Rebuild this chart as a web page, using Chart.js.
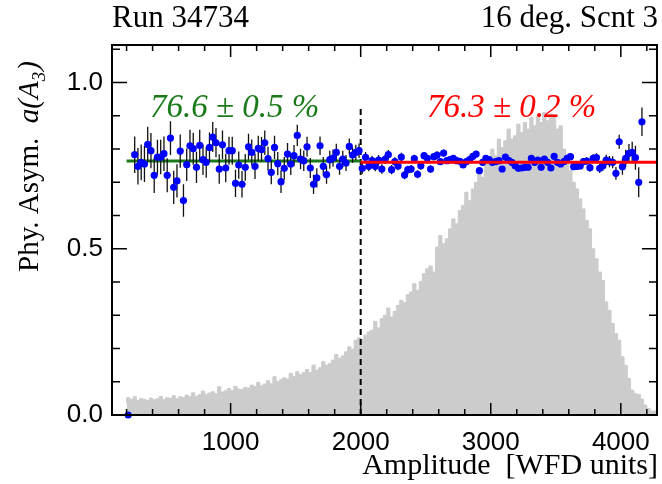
<!DOCTYPE html>
<html>
<head>
<meta charset="utf-8">
<script src="https://cdn.jsdelivr.net/npm/chart.js@4.4.1/dist/chart.umd.min.js"></script>
<style>
  html, body { margin: 0; padding: 0; background: #fff; }
  #wrap { width: 662px; height: 484px; }
</style>
</head>
<body>
<div id="wrap"><canvas id="c" width="662" height="484"></canvas></div>
<script>
// Binning of the amplitude spectrum (WFD units)
const HIST_MIN = 200;
const BIN_WIDTH = 25;

// Amplitude spectrum, scaled to the asymmetry axis (one value per bin)
const histHeights = [
  0.035, 0.052, 0.047, 0.055, 0.044, 0.050, 0.047, 0.043,
  0.051, 0.046, 0.049, 0.056, 0.047, 0.052, 0.050, 0.058,
  0.049, 0.055, 0.053, 0.060, 0.055, 0.067, 0.056, 0.061,
  0.072, 0.062, 0.066, 0.070, 0.064, 0.085, 0.069, 0.073,
  0.080, 0.074, 0.086, 0.078, 0.077, 0.083, 0.081, 0.090,
  0.086, 0.098, 0.088, 0.093, 0.103, 0.094, 0.115, 0.100,
  0.106, 0.112, 0.108, 0.125, 0.116, 0.130, 0.121, 0.128,
  0.137, 0.128, 0.150, 0.135, 0.142, 0.160, 0.150, 0.155,
  0.165, 0.182, 0.170, 0.178, 0.190, 0.205, 0.198, 0.225,
  0.232, 0.228, 0.240, 0.250, 0.255, 0.282, 0.262, 0.290,
  0.300, 0.322, 0.295, 0.312, 0.330, 0.345, 0.338, 0.362,
  0.370, 0.395, 0.375, 0.402, 0.425, 0.440, 0.448, 0.430,
  0.505, 0.540, 0.515, 0.530, 0.560, 0.590, 0.575, 0.615,
  0.630, 0.670, 0.645, 0.680, 0.700, 0.735, 0.715, 0.760,
  0.770, 0.800, 0.780, 0.830, 0.805, 0.825, 0.860, 0.830,
  0.840, 0.875, 0.850, 0.880, 0.860, 0.895, 0.870, 0.900,
  0.880, 0.910, 0.885, 0.905, 0.895, 0.860, 0.870, 0.800,
  0.765, 0.735, 0.700, 0.680, 0.650, 0.620, 0.585, 0.560,
  0.500, 0.470, 0.430, 0.405, 0.340, 0.315, 0.275, 0.245,
  0.225, 0.175, 0.150, 0.110, 0.075, 0.064, 0.062, 0.048,
  0.030, 0.020, 0.012
];

// Physics asymmetry per bin (null = empty bin)
const asymValues = [
  0.000, null,
  0.783, 0.748, 0.760, 0.755, 0.814, 0.795, 0.721, 0.776, 0.776, 0.786,
  0.721, 0.833, 0.685, 0.704, 0.794, 0.645, 0.753, 0.810, 0.801, 0.745,
  0.811, 0.768, 0.760, 0.805, 0.836, 0.819, 0.740, 0.813, 0.743, 0.795,
  0.795, 0.697, 0.752, 0.694, 0.745, 0.807, 0.790, 0.748, 0.802, 0.799,
  0.819, 0.771, 0.730, 0.805, 0.756, 0.702, 0.742, 0.785, 0.755, 0.780,
  0.841, 0.770, 0.765, 0.807, 0.743, 0.694, 0.713, 0.810, 0.748, 0.723,
  0.768, 0.773, 0.790, 0.748, 0.770, 0.758, 0.808, 0.782, 0.790, 0.795,
  0.742, 0.775, 0.748, 0.765, 0.748, 0.767, 0.740, 0.769, 0.783, 0.738,
  0.762, 0.749, 0.776, 0.722, 0.738, 0.740, 0.771, 0.724, 0.750, 0.780,
  0.772, 0.740, 0.777, 0.782, 0.762, 0.788, 0.765, 0.768, 0.772, 0.765,
  0.763, 0.752, 0.762, 0.768, 0.778, 0.785, 0.735, 0.760, 0.772, 0.768,
  0.760, 0.762, 0.765, 0.740, 0.776, 0.766, 0.760, 0.750, 0.742, 0.743,
  0.745, 0.745, 0.772, 0.760, 0.767, 0.745, 0.770, 0.760, 0.743, 0.778,
  0.760, 0.755, 0.762, 0.772,
  0.777, 0.747, 0.748, 0.749, 0.762, 0.764, 0.744, 0.772, 0.774, 0.742,
  0.750, 0.767, 0.762, 0.760, 0.727, 0.822, 0.747, 0.772, 0.787, 0.790,
  0.774, 0.700, 0.882
];

// Statistical errors on the asymmetry, same bins
const asymErrors = [
  0, null,
  0.055, 0.055, 0.054, 0.054, 0.053, 0.053, 0.053, 0.052, 0.052, 0.052,
  0.051, 0.051, 0.050, 0.050, 0.050, 0.049, 0.049, 0.048, 0.048, 0.047,
  0.047, 0.046, 0.046, 0.045, 0.045, 0.044, 0.044, 0.043, 0.043, 0.042,
  0.042, 0.041, 0.041, 0.040, 0.040, 0.039, 0.039, 0.038, 0.038, 0.037,
  0.037, 0.036, 0.036, 0.035, 0.035, 0.034, 0.034, 0.033, 0.033, 0.032,
  0.032, 0.031, 0.031, 0.030, 0.030, 0.029, 0.029, 0.028, 0.028, 0.027,
  0.027, 0.026, 0.026, 0.025, 0.025, 0.024, 0.024, 0.023, 0.023, 0.022,
  0.016, 0.016, 0.015, 0.015, 0.015, 0.015, 0.014, 0.014, 0.014, 0.014,
  0.013, 0.013, 0.013, 0.013, 0.012, 0.012, 0.012, 0.012, 0.012, 0.011,
  0.011, 0.011, 0.011, 0.011, 0.010, 0.010, 0.010, 0.010, 0.010, 0.010,
  0.009, 0.009, 0.009, 0.009, 0.009, 0.009, 0.009, 0.009, 0.008, 0.008,
  0.008, 0.008, 0.008, 0.008, 0.008, 0.008, 0.008, 0.008, 0.008, 0.008,
  0.008, 0.008, 0.008, 0.008, 0.008, 0.008, 0.008, 0.008, 0.008, 0.008,
  0.008, 0.008, 0.009, 0.009, 0.009, 0.010, 0.010, 0.010, 0.011, 0.011,
  0.012, 0.012, 0.013, 0.014, 0.015, 0.016, 0.017, 0.018, 0.019, 0.021,
  0.024, 0.026, 0.028, 0.032, 0.036, 0.045, 0.043
];

// Constant fits below / above the cut
const fitLowX = [200, 2000];
const fitLowY = [0.764, 0.764];
const fitHighX = [2000, 4278];
const fitHighY = [0.760, 0.760];
const fitLowLabel = '76.6 \u00b1 0.5 %';
const fitHighLabel = '76.3 \u00b1 0.2 %';

// Cut line
const cutX = [2000, 2000];
const cutY = [0, 0.926];

const xTicks = [1000, 2000, 3000, 4000];
const yTicks = [0, 0.5, 1.0];

const GREEN = '#1a7a1a';
const RED = '#ff0000';
const SERIF = '"Liberation Serif", "Times New Roman", serif';
const SANS = '"Liberation Sans", Arial, sans-serif';

// build chart data from the arrays
const histData = histHeights.map((h, i) => ({ x: HIST_MIN + i * BIN_WIDTH, y: h }));
histData.push({ x: HIST_MIN + histHeights.length * BIN_WIDTH, y: histHeights[histHeights.length - 1] });

const pointData = [];
const errData = [];
asymValues.forEach((v, i) => {
  if (v === null) return;
  const x = HIST_MIN + (i + 0.5) * BIN_WIDTH;
  pointData.push({ x, y: v });
  const e = asymErrors[i];
  if (e > 0) {
    errData.push({ x, y: v - e }, { x, y: v + e }, { x, y: null });
  }
});

const toXY = (xs, ys) => xs.map((x, i) => ({ x, y: ys[i] }));

// frame, inward ticks and texts, ROOT style
const frameAndText = {
  id: 'frameAndText',
  afterDatasetsDraw(chart) {
    const { ctx } = chart;
    ctx.save();
    ctx.font = 'italic 33px ' + SERIF;
    ctx.textBaseline = 'alphabetic';
    ctx.fillStyle = GREEN;
    ctx.fillText(fitLowLabel, 150, 117);
    ctx.fillStyle = RED;
    ctx.fillText(fitHighLabel, 427, 117);
    ctx.restore();
  },
  afterDraw(chart) {
    const { ctx, chartArea: a, scales: { x, y } } = chart;
    ctx.save();
    ctx.strokeStyle = '#000';
    ctx.lineWidth = 1.5;
    ctx.beginPath();
    for (let v = 200; v <= 4200; v += 200) {
      const px = x.getPixelForValue(v);
      const len = v % 1000 === 0 ? 12 : 6;
      ctx.moveTo(px, a.bottom); ctx.lineTo(px, a.bottom - len);
      ctx.moveTo(px, a.top); ctx.lineTo(px, a.top + len);
    }
    for (let i = 1; i <= 11; i++) {
      const py = y.getPixelForValue(i / 10);
      const len = i % 5 === 0 ? 15 : 8;
      ctx.moveTo(a.left, py); ctx.lineTo(a.left + len, py);
      ctx.moveTo(a.right, py); ctx.lineTo(a.right - len, py);
    }
    ctx.stroke();
    ctx.lineWidth = 2;
    ctx.strokeRect(a.left, a.top, a.right - a.left, a.bottom - a.top);

    ctx.fillStyle = '#000';
    ctx.font = '31px ' + SERIF;
    ctx.textBaseline = 'alphabetic';
    ctx.textAlign = 'left';
    ctx.fillText('Run 34734', 112, 27);
    ctx.textAlign = 'right';
    ctx.fillText('16 deg. Scnt 3', 658, 27);
    ctx.font = '30px ' + SERIF;
    ctx.fillText('Amplitude  [WFD units]', 658, 474);

    // y title, rotated
    ctx.translate(38, 272);
    ctx.rotate(-Math.PI / 2);
    ctx.textAlign = 'left';
    let cx = 0;
    ctx.font = '29px ' + SERIF;
    ctx.fillText('Phy. Asym.  ', cx, 0);
    cx += ctx.measureText('Phy. Asym.  ').width;
    ctx.font = 'italic 29px ' + SERIF;
    ctx.fillText('a(A', cx, 0);
    cx += ctx.measureText('a(A').width;
    ctx.font = 'italic 19px ' + SERIF;
    ctx.fillText('3', cx, 7);
    cx += ctx.measureText('3').width + 1;
    ctx.font = 'italic 29px ' + SERIF;
    ctx.fillText(')', cx, 0);
    ctx.restore();
  }
};

new Chart(document.getElementById('c'), {
  type: 'line',
  data: {
    datasets: [
      {
        // spectrum
        data: histData,
        stepped: 'after',
        fill: 'origin',
        backgroundColor: '#cccccc',
        borderColor: '#cccccc',
        borderWidth: 1,
        pointRadius: 0,
        order: 10
      },
      {
        data: toXY(cutX, cutY),
        borderColor: '#000',
        borderWidth: 2,
        borderDash: [6, 4],
        pointRadius: 0,
        order: 9
      },
      {
        data: toXY(fitLowX, fitLowY),
        borderColor: GREEN,
        borderWidth: 3,
        pointRadius: 0,
        order: 8
      },
      {
        // error bars
        data: errData,
        borderColor: '#111',
        borderWidth: 1.3,
        pointRadius: 0,
        spanGaps: false,
        order: 7
      },
      {
        data: pointData,
        showLine: false,
        pointRadius: 3.6,
        pointBackgroundColor: '#0000ff',
        pointBorderWidth: 0,
        clip: false,
        order: 6
      },
      {
        data: toXY(fitHighX, fitHighY),
        borderColor: RED,
        borderWidth: 3,
        pointRadius: 0,
        order: 5
      }
    ]
  },
  options: {
    responsive: false,
    animation: false,
    events: [],
    layout: { padding: { top: 45, right: 3, left: 0, bottom: 0 } },
    plugins: { legend: { display: false }, tooltip: { enabled: false } },
    scales: {
      x: {
        type: 'linear',
        min: 88,
        max: 4278,
        grid: { display: false, drawTicks: false },
        border: { display: false },
        ticks: { color: '#000', font: { family: SANS, size: 26 }, padding: 12, maxRotation: 0, autoSkip: false, callback: v => String(v) },
        afterBuildTicks: s => { s.ticks = xTicks.map(v => ({ value: v })); },
        afterFit: s => { s.height = 69; }
      },
      y: {
        type: 'linear',
        min: 0,
        max: 1.113,
        grid: { display: false, drawTicks: false },
        border: { display: false },
        ticks: { color: '#000', font: { family: SANS, size: 26 }, padding: 9, callback: v => v.toFixed(1) },
        afterBuildTicks: s => { s.ticks = yTicks.map(v => ({ value: v })); },
        afterFit: s => { s.width = 112; }
      }
    }
  },
  plugins: [frameAndText]
});
</script>
</body>
</html>
